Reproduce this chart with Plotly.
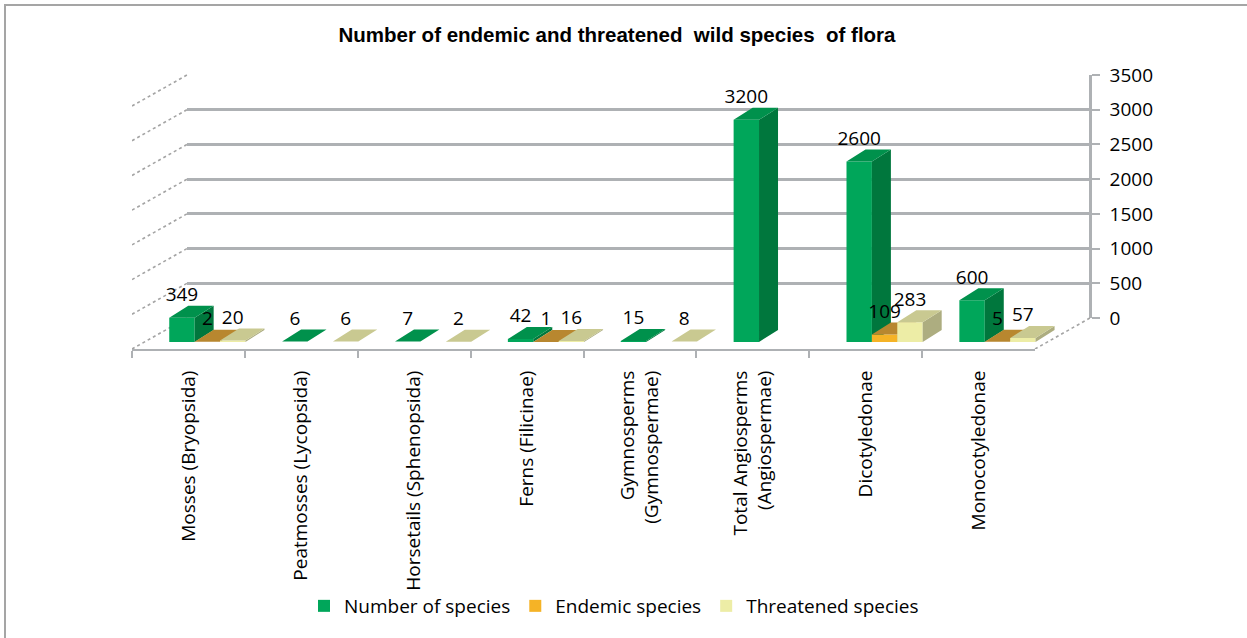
import plotly.graph_objects as go

# ---- data -------------------------------------------------------------
categories = [
    "Mosses (Bryopsida)",
    "Peatmosses (Lycopsida)",
    "Horsetails (Sphenopsida)",
    "Ferns (Filicinae)",
    "Gymnosperms<br>(Gymnospermae)",
    "Total Angiosperms<br>(Angiospermae)",
    "Dicotyledonae",
    "Monocotyledonae",
]
number_of_species = [349, 6, 7, 42, 15, 3200, 2600, 600]
endemic_species = [2, None, None, 1, None, None, 109, 5]
threatened_species = [20, 6, 2, 16, 8, None, 283, 57]
value_ticks = [0, 500, 1000, 1500, 2000, 2500, 3000, 3500]

# ---- geometry of the pseudo-3D box (pixels) ----------------------------
W, H = 1247, 638
FRONT_X0, FRONT_X1 = 132, 1035      # front edge of the floor
FLOOR_Y = 349                       # front edge of the floor
BASE_Y = 342                        # foot of the bars' front faces
BACK_X0, BACK_X1 = 187, 1089        # back wall
BACK_BASE_Y, BACK_TOP_Y = 318, 75   # back wall 0 and 3500
K = (BACK_BASE_Y - BACK_TOP_Y) / value_ticks[-1]   # px per unit
CAT_W = (FRONT_X1 - FRONT_X0) / len(categories)


def fx(px):
    return (px - FRONT_X0) / CAT_W - 0.5


def fy(py):
    return (BASE_Y - py) / K


WALL_DX = fx(BACK_X0) - fx(FRONT_X0)
WALL_DY = fy(BACK_BASE_Y)
FLOOR_V = fy(FLOOR_Y)
DEPTH_DX = 19 / CAT_W
DEPTH_DY = 12 / K
BAR_W = 0.225

FONT = "Open Sans"
FS = 19
GRID = "#aeb1b4"

series = [
    ("Number of species", number_of_species, -0.17,
     "#00a65a", "#00773d", "#00914c"),
    ("Endemic species", endemic_species, -0.17 + BAR_W,
     "#f5b326", "#c88b1e", "#b8872f"),
    ("Threatened species", threatened_species, -0.17 + 2 * BAR_W,
     "#ededa6", "#adad80", "#c9c991"),
]

fig = go.Figure()

# invisible trace that keeps the back-wall subplot alive
fig.add_trace(go.Scatter(
    x=[0.5] * len(value_ticks), y=value_ticks, xaxis="x", yaxis="y",
    mode="markers", marker=dict(opacity=0), hoverinfo="skip",
    showlegend=False))

# invisible trace that carries the category axis
fig.add_trace(go.Scatter(
    x=categories, y=[0] * len(categories), xaxis="x2", yaxis="y2",
    mode="markers", marker=dict(opacity=0), hoverinfo="skip",
    showlegend=False))

# side-wall and floor edges (dotted)
wx, wy = [], []
for v in value_ticks:
    wx += [fx(FRONT_X0), fx(FRONT_X0) + WALL_DX, None]
    wy += [v + FLOOR_V, v + WALL_DY, None]
wx += [fx(FRONT_X1), fx(FRONT_X1) + WALL_DX, None]
wy += [FLOOR_V, WALL_DY, None]
fig.add_trace(go.Scatter(
    x=wx, y=wy, xaxis="x3", yaxis="y2", mode="lines",
    line=dict(color="#a4a4a4", width=1.6, dash="dot"),
    hoverinfo="skip", showlegend=False))


def faces(vals, off):
    fr_x, fr_y, sd_x, sd_y, tp_x, tp_y = [], [], [], [], [], []
    for i, v in enumerate(vals):
        if v is None:
            continue
        xl = i + off
        xr = xl + BAR_W
        fr_x += [xl, xr, xr, xl, xl, None]
        fr_y += [0, 0, v, v, 0, None]
        sd_x += [xr, xr + DEPTH_DX, xr + DEPTH_DX, xr, xr, None]
        sd_y += [0, DEPTH_DY, v + DEPTH_DY, v, 0, None]
        tp_x += [xl, xr, xr + DEPTH_DX, xl + DEPTH_DX, xl, None]
        tp_y += [v, v, v + DEPTH_DY, v + DEPTH_DY, v, None]
    return (fr_x, fr_y), (sd_x, sd_y), (tp_x, tp_y)


for name, vals, off, c_front, c_side, c_top in series:
    for (px_, py_), col in zip(faces(vals, off), (c_front, c_side, c_top)):
        fig.add_trace(go.Scatter(
            x=px_, y=py_, xaxis="x3", yaxis="y2", mode="lines",
            fill="toself", fillcolor=col, line=dict(width=0, color=col),
            hoverinfo="skip", showlegend=False))

# value labels
for name, vals, off, *_ in series:
    xs, ys, tx = [], [], []
    for i, v in enumerate(vals):
        if v is None:
            continue
        xs.append(i + off + BAR_W / 2)
        ys.append(v + DEPTH_DY)
        tx.append(str(v))
    fig.add_trace(go.Scatter(
        x=xs, y=ys, text=tx, xaxis="x3", yaxis="y2", mode="text",
        textposition="top center", cliponaxis=False,
        textfont=dict(family=FONT, size=FS, color="#000000"),
        hoverinfo="skip", showlegend=False))

# legend entries
for name, vals, off, c_front, *_ in series:
    fig.add_trace(go.Bar(
        x=[None], y=[None], name=name, xaxis="x3", yaxis="y2",
        marker=dict(color=c_front, line=dict(width=0))))

X3_RIGHT = BACK_X1 + 20
fig.update_layout(
    width=W, height=H, autosize=False,
    margin=dict(l=0, r=0, t=0, b=0, autoexpand=False),
    paper_bgcolor="white", plot_bgcolor="rgba(0,0,0,0)",
    title=dict(
        text="<b>Number of endemic and threatened&nbsp; wild species&nbsp; of flora</b>",
        x=617 / W, y=1 - 35 / H, xanchor="center", yanchor="middle",
        font=dict(family="Liberation Sans", size=20.5, color="#000000")),
    showlegend=True,
    legend=dict(
        orientation="h", x=614 / W, xanchor="center",
        y=1 - 606 / H, yanchor="middle",
        font=dict(family=FONT, size=FS, color="#000000"),
        itemwidth=30, bgcolor="rgba(0,0,0,0)"),
    # back wall: gridlines and value axis
    xaxis=dict(domain=[BACK_X0 / W, BACK_X1 / W], anchor="y",
               range=[0, 1], visible=False, automargin=False),
    yaxis=dict(domain=[1 - BACK_BASE_Y / H, 1 - BACK_TOP_Y / H],
               anchor="x", side="right", range=[0, value_ticks[-1]],
               tickvals=value_ticks, ticks="outside", ticklen=8,
               tickcolor=GRID, tickwidth=2, ticklabelstandoff=6,
               showline=True, linecolor=GRID, linewidth=2.5,
               showgrid=True, gridcolor=GRID, gridwidth=2.5,
               zeroline=False, automargin=False,
               tickfont=dict(family=FONT, size=FS, color="#000000")),
    # front floor: category axis
    xaxis2=dict(domain=[FRONT_X0 / W, FRONT_X1 / W], anchor="y2",
                type="category", categoryorder="array",
                categoryarray=categories, range=[-0.5, len(categories) - 0.5],
                tickson="boundaries", ticks="outside", ticklen=7,
                tickcolor=GRID, tickwidth=2, tickangle=-90,
                ticklabelstandoff=12, automargin=False,
                showline=True, linecolor=GRID, linewidth=2,
                showgrid=False, zeroline=False,
                tickfont=dict(family=FONT, size=FS, color="#000000")),
    yaxis2=dict(domain=[1 - FLOOR_Y / H, 1], anchor="x2",
                range=[FLOOR_V, fy(0)], visible=False, automargin=False),
    # numeric twin of the floor axis, a little wider so the last bar's
    # depth faces are not clipped
    xaxis3=dict(domain=[FRONT_X0 / W, X3_RIGHT / W], anchor="y2",
                range=[-0.5, fx(X3_RIGHT)],
                visible=False, automargin=False),
    shapes=[dict(type="rect", xref="paper", yref="paper",
                 x0=5 / W, x1=1.05, y0=-0.05, y1=1 - 5 / H,
                 line=dict(color="#a5a5a5", width=2), layer="below")],
)

fig.write_html("out.html")
